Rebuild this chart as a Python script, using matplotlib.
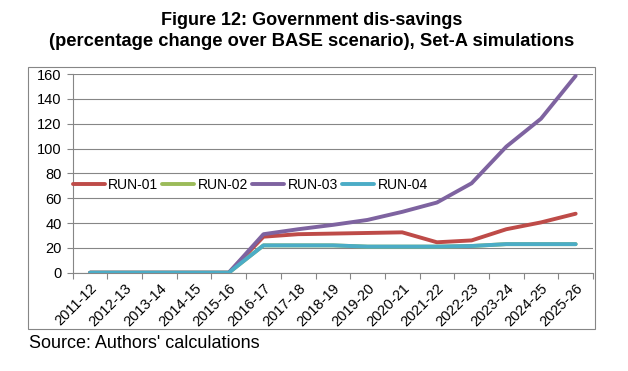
import matplotlib
matplotlib.use("Agg")
import matplotlib.pyplot as plt
from matplotlib.patches import Rectangle
from matplotlib.ticker import FixedLocator

plt.rcParams['font.family'] = ['Liberation Sans', 'DejaVu Sans']

years = ["2011-12", "2012-13", "2013-14", "2014-15", "2015-16", "2016-17", "2017-18",
         "2018-19", "2019-20", "2020-21", "2021-22", "2022-23", "2023-24", "2024-25", "2025-26"]
run01 = [0, 0, 0, 0, 0, 29, 31, 31.5, 32, 32.5, 24.5, 26, 35, 40.5, 47.5]
run02 = [0, 0, 0, 0, 0, 22, 22, 22, 21, 21, 21, 21.5, 23, 23, 23]
run03 = [0, 0, 0, 0, 0, 31, 35, 38.5, 42.5, 49, 56.5, 72, 101.5, 124, 158.5]
run04 = [0, 0, 0, 0, 0, 22, 22, 22, 21, 21, 21, 21.5, 23, 23, 23]
series_names = ["RUN-01", "RUN-02", "RUN-03", "RUN-04"]
yticks = [0, 20, 40, 60, 80, 100, 120, 140, 160]

W, H = 628, 371
fig = plt.figure(figsize=(W / 100, H / 100), dpi=100)
L, R, T, B = 72.7, 593, 74, 272.7
ax = fig.add_axes([L / W, (H - B) / H, (R - L) / W, (B - T) / H])

grey = '#868686'
colors = ['#BE4B48', '#9BBB59', '#7E63A0', '#4BACC6']
x = list(range(len(years)))
for name, vals, c in zip(series_names, [run01, run02, run03, run04], colors):
    ax.plot(x, vals, color=c, lw=2.8, label=name, solid_capstyle='round', zorder=3)

ax.set_xlim(-0.5, len(years) - 0.5)
ax.set_ylim(0, 160)
ax.set_yticks(yticks)
ax.set_xticks(x)
ax.set_xticklabels(years, rotation=45, ha='right', rotation_mode='anchor', fontsize=10.5)
ax.xaxis.set_minor_locator(FixedLocator([i - 0.5 for i in range(len(years) + 1)]))
ax.tick_params(axis='x', which='major', length=0, pad=6)
ax.tick_params(axis='x', which='minor', length=4, color=grey, width=0.8, direction='out')
ax.tick_params(axis='y', length=4, color=grey, width=0.8, pad=4, labelsize=10.5)
ax.grid(axis='y', color=grey, lw=0.8)
ax.set_axisbelow(True)
for s in ['top', 'right']:
    ax.spines[s].set_visible(False)
for s in ['left', 'bottom']:
    ax.spines[s].set_color(grey)
    ax.spines[s].set_linewidth(0.8)

ax.legend(loc='center left', bbox_to_anchor=(0.0, (B - 185) / (B - T)), ncol=4, frameon=False,
          fontsize=10, handlelength=2.3, handletextpad=0.25, columnspacing=0.3,
          borderpad=0, borderaxespad=0)

fig.patches.append(Rectangle((28 / W, (H - 329) / H), (595 - 28) / W, (329 - 66.7) / H,
                             transform=fig.transFigure, fill=False, edgecolor=grey, lw=0.8))

fig.text(312 / W, 1 - 20.5 / H, "Figure 12: Government dis-savings", ha='center', va='center',
         fontsize=13, fontweight='bold')
fig.text(311.5 / W, 1 - 41.5 / H, "(percentage change over BASE scenario), Set-A simulations",
         ha='center', va='center', fontsize=13.2, fontweight='bold')
fig.text(29 / W, 1 - 343.5 / H, "Source: Authors' calculations", ha='left', va='center',
         fontsize=13)

fig.savefig("out.png", dpi=100)
